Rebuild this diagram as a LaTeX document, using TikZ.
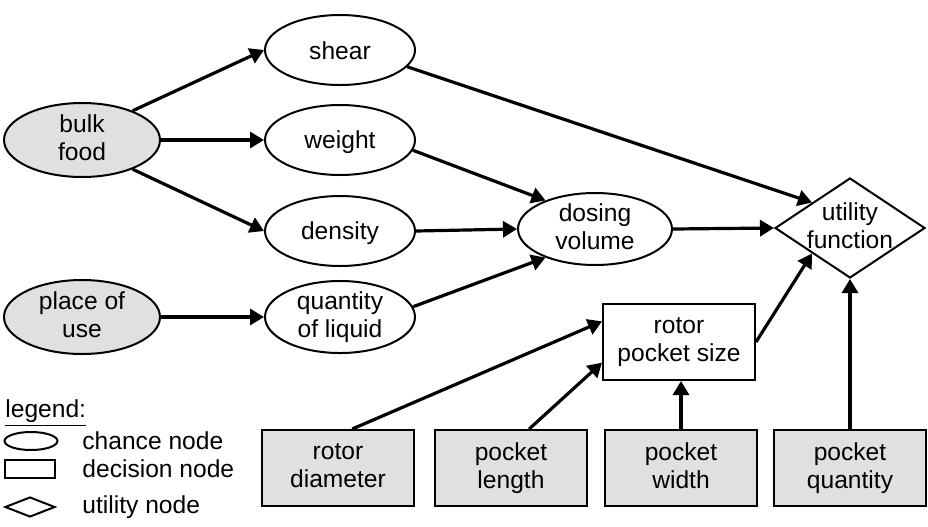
\documentclass[tikz,border=0pt]{standalone}
\usepackage{fontspec}
\setmainfont{Liberation Sans}
\usetikzlibrary{shapes.geometric,arrows.meta}
\definecolor{nodegray}{gray}{0.88}
\newcommand\nodestrut{\rule[-2.5pt]{0pt}{14pt}}
\tikzset{
  struts/.style={execute at begin node=\nodestrut, execute at end node=\nodestrut},
  chance/.style={ellipse, draw, line width=1pt, minimum width=75pt,
    minimum height=35pt, inner sep=0pt, align=center, struts},
  given/.style={chance, fill=nodegray, minimum width=78pt, minimum height=37pt},
  decision/.style={rectangle, draw, line width=1pt, minimum width=76pt,
    minimum height=38pt, inner sep=0pt, align=center, struts},
  choice/.style={decision, fill=nodegray},
  utility/.style={diamond, draw, line width=1pt, minimum width=75pt,
    minimum height=50pt, inner sep=0pt},
  infl/.style={-{Triangle[length=7pt,width=8pt]}, line width=1.6pt},
}
\begin{document}
\begin{tikzpicture}[x=0.5pt, y=-0.5pt, font=\fontsize{12.3}{14}\selectfont]
      \useasboundingbox (0, 0) rectangle (928, 526);
      % chance nodes
      \node [given] (bulk) at (82, 140) {bulk\\food};
      \node [given] (place) at (82, 317) {place of\\use};
      \node [chance] (shear) at (340, 50) {shear};
      \node [chance] (weight) at (340, 140) {weight};
      \node [chance] (density) at (340, 231) {density};
      \node [chance] (liquid) at (340, 317) {quantity\\of liquid};
      \node [chance, minimum width=77pt, minimum height=36pt] (dosing)
            at (595, 229) {dosing\\volume};
      % utility node
      \node [utility] (util) at (850, 228) {};
      \node [align=center, inner sep=0pt, struts] (utiltext) at (util)
            {utility\\function};
      % decision nodes
      \node [decision] (size) at (679, 342) {rotor\\pocket size};
      \node [choice] (diam) at (338, 468) {rotor\\diameter};
      \node [choice] (length) at (511, 468) {pocket\\length};
      \node [choice] (width) at (681, 468) {pocket\\width};
      \node [choice] (quant) at (850, 468) {pocket\\quantity};

      \draw [infl] (bulk.30) -- (shear.west);
      \draw [infl] (bulk.east) -- (weight.west);
      \draw [infl] (bulk.-30) -- (density.west);
      \draw [infl] (place.east) -- (liquid.west);
      \draw [infl] (shear.-14) -- (util.north west);
      \draw [infl] (weight.-8) -- (dosing.150);
      \draw [infl] (density.east) -- (dosing.west);
      \draw [infl] (liquid.8) -- (dosing.210);
      \draw [infl] (dosing.east) -- (util.west);
      \draw [infl] (size.east) -- (util.south west);
      \draw [infl] (quant.north) -- (util.south);
      \draw [infl] (diam.70) -- (size.165);
      \draw [infl] (length.65) -- (size.195);
      \draw [infl] (width.north) -- (width.north |- size.south);

      % legend
      \node [anchor=west, inner sep=0pt] (legend) at (5, 413) {\underline{legend:}};
      \node [ellipse, draw, line width=1pt, minimum width=26.5pt,
            minimum height=9pt, inner sep=0pt] (lchance) at (31, 441) {};
      \node [rectangle, draw, line width=1pt, minimum width=25pt,
            minimum height=9pt, inner sep=0pt] (ldecision) at (30, 469) {};
      \node [diamond, draw, line width=1pt, minimum width=25pt,
            minimum height=10pt, inner sep=0pt] (lutility) at (30, 507) {};
      \node [anchor=west, inner sep=0pt] at (82, 441) {chance node};
      \node [anchor=west, inner sep=0pt] at (82, 469) {decision node};
      \node [anchor=west, inner sep=0pt] at (82, 507) {utility node};
\end{tikzpicture}
\end{document}
